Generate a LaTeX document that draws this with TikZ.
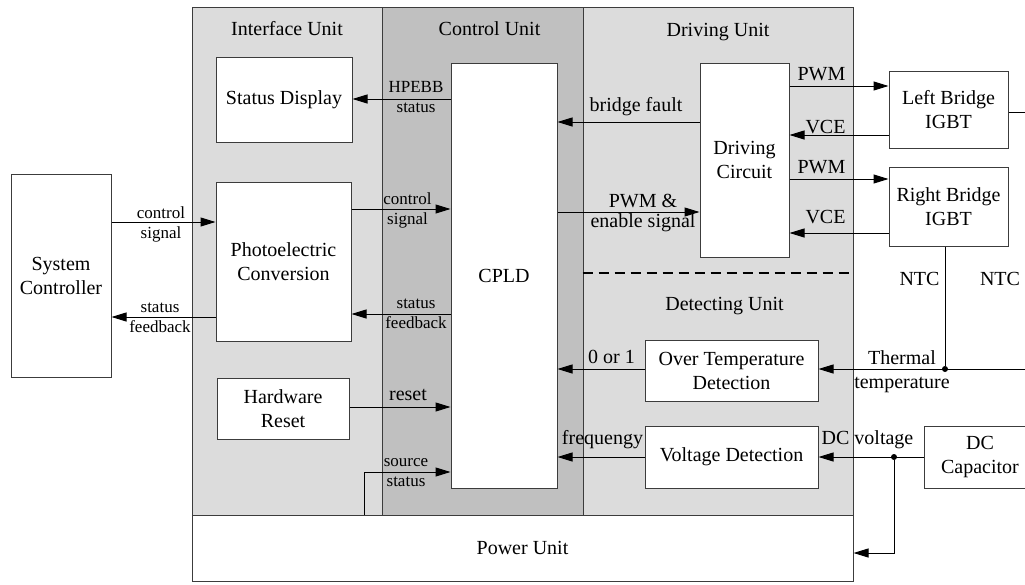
\documentclass[tikz,border=0pt]{standalone}
\usepackage{fontspec}
\setmainfont{Liberation Serif}
\usetikzlibrary{arrows.meta, positioning, calc}
\definecolor{unitlight}{RGB}{220,220,220}
\definecolor{unitdark}{RGB}{192,192,192}
\definecolor{edge}{RGB}{60,60,60}

\begin{document}
\begin{tikzpicture}[x=1pt, y=1pt,
  every node/.style={font=\fontsize{20}{24}\selectfont},
  unit/.style={rectangle, draw=edge, line width=1pt, inner sep=0pt},
  blk/.style={rectangle, draw=edge, fill=white, line width=1pt, inner sep=0pt, align=center},
  sml/.style={font=\fontsize{17}{20}\selectfont, align=center, inner sep=0pt},
  lab/.style={anchor=base, inner sep=0pt},
  arr/.style={-{Triangle[length=15pt, width=9pt]}, line width=1pt, draw=black},
  wire/.style={line width=1pt, draw=black},
  dot/.style={circle, fill=black, inner sep=0pt, minimum size=6pt},
]
\useasboundingbox (0,0) rectangle (1025,-584);

% unit areas
\node[unit, fill=unitlight, minimum width=190, minimum height=508] (iface) at (287,-261) {};
\node[unit, fill=unitdark,  minimum width=201, minimum height=508] (ctrl)  at (482.5,-261) {};
\node[unit, fill=unitlight, minimum width=270, minimum height=508] (drvu)  at (718,-261) {};
\node[blk, minimum width=661, minimum height=66] (power) at (522.5,-548) {Power Unit};
\draw[line width=1.6pt, dash pattern=on 10pt off 6pt] (drvu.west |- 0,-273) -- (drvu.east |- 0,-273);

\node[lab] (t-if) at (287,-35)    {Interface Unit};
\node[lab] (t-cu) at (489.5,-35)  {Control Unit};
\node[lab] (t-du) at (718,-36)    {Driving Unit};
\node[lab] (t-de) at (724.5,-310) {Detecting Unit};

% blocks
\node[blk, minimum width=100, minimum height=203] (sysctl)  at (61,-275.5)    {System\\Controller};
\node[blk, minimum width=136, minimum height=85]  (stdisp)  at (284,-99.5)    {Status Display};
\node[blk, minimum width=135, minimum height=159] (photo)   at (283.5,-261.5) {Photoelectric\\Conversion};
\node[blk, minimum width=132, minimum height=61]  (hwreset) at (283,-408.5)   {Hardware\\Reset};
\node[blk, minimum width=106, minimum height=425] (cpld)    at (504,-275.5)   {CPLD};
\node[blk, minimum width=89,  minimum height=194] (drvc)    at (744.5,-160)   {Driving\\Circuit};
\node[blk, minimum width=119, minimum height=77]  (lbr)     at (948.5,-109.5) {Left Bridge\\IGBT};
\node[blk, minimum width=119, minimum height=79]  (rbr)     at (948.5,-206.5) {Right Bridge\\IGBT};
\node[blk, minimum width=173, minimum height=61]  (otd)     at (731.5,-370.5) {Over Temperature\\Detection};
\node[blk, minimum width=173, minimum height=62]  (vdet)    at (731.5,-457)   {Voltage Detection};
\node[blk, minimum width=112, minimum height=62]  (dccap)   at (980,-457)     {DC\\Capacitor};

\node[dot] (ntcj) at (945,-369) {};
\node[dot] (dcj)  at (894,-457) {};
\coordinate (lbrout) at (1030,-112);
\coordinate (thin)   at (1030,-369);

% connectors
\draw[arr] (sysctl.east |- 0,-222) -- (photo.west |- 0,-222);
\draw[arr] (photo.west |- 0,-317) -- (sysctl.east |- 0,-317);
\draw[arr] (cpld.west |- 0,-99) -- (stdisp.east |- 0,-99);
\draw[arr] (photo.east |- 0,-209) -- (cpld.west |- 0,-209);
\draw[arr] (cpld.west |- 0,-314) -- (photo.east |- 0,-314);
\draw[arr] (hwreset.east |- 0,-407) -- (cpld.west |- 0,-407);
\draw[arr] (power.north -| 364,0) |- (cpld.west |- 0,-472);
\draw[arr] (drvc.west |- 0,-122) -- (cpld.east |- 0,-122);
\draw[arr] (cpld.east |- 0,-212) -- (drvc.west |- 0,-212);
\draw[arr] (drvc.east |- 0,-86) -- (lbr.west |- 0,-86);
\draw[arr] (lbr.west |- 0,-135) -- (drvc.east |- 0,-135);
\draw[arr] (drvc.east |- 0,-179) -- (rbr.west |- 0,-179);
\draw[arr] (rbr.west |- 0,-233) -- (drvc.east |- 0,-233);
\draw[wire] (lbr.east |- lbrout) -- (lbrout);
\draw[wire] (rbr.south -| ntcj) -- (ntcj);
\draw[arr] (thin) -- (otd.east |- thin);
\draw[arr] (otd.west |- thin) -- (cpld.east |- thin);
\draw[arr] (dccap.west |- dcj) -- (vdet.east |- dcj);
\draw[arr] (vdet.west |- dcj) -- (cpld.east |- dcj);
\draw[arr] (dcj) |- (power.east |- 0,-553);

% labels
\node[sml] (l-cs1) at (161,-224)    {control\\signal};
\node[sml] (l-sf1) at (160,-317.5)  {status\\feedback};
\node[sml] (l-hs)  at (416,-97.5)   {HPEBB\\status};
\node[sml] (l-cs2) at (407.5,-210.5) {control\\signal};
\node[sml] (l-sf2) at (416,-314)    {status\\feedback};
\node[sml] (l-ss)  at (406,-473)    {source\\status};
\node[lab] (l-rst) at (408,-400)    {reset};
\node[lab] (l-bf)  at (636,-111)    {bridge fault};
\node[align=center, inner sep=0pt, font=\fontsize{20}{20}\selectfont] (l-pwm) at (643,-212.6) {PWM \&\\enable signal};
\node[lab] (l-p1)  at (821.5,-80)   {PWM};
\node[lab] (l-v1)  at (825.5,-133)  {VCE};
\node[lab] (l-p2)  at (821.5,-173)  {PWM};
\node[lab] (l-v2)  at (825.5,-223)  {VCE};
\node[lab] (l-n1)  at (919.5,-285)  {NTC};
\node[lab] (l-n2)  at (1000,-285)   {NTC};
\node[lab] (l-th)  at (902,-364)    {Thermal};
\node[lab] (l-tt)  at (902,-388)    {temperature};
\node[lab] (l-01)  at (611.5,-363)  {0 or 1};
\node[lab] (l-fq)  at (602.5,-444)  {frequengy};
\node[lab] (l-dcv) at (867.5,-444)  {DC voltage};
\end{tikzpicture}
\end{document}
